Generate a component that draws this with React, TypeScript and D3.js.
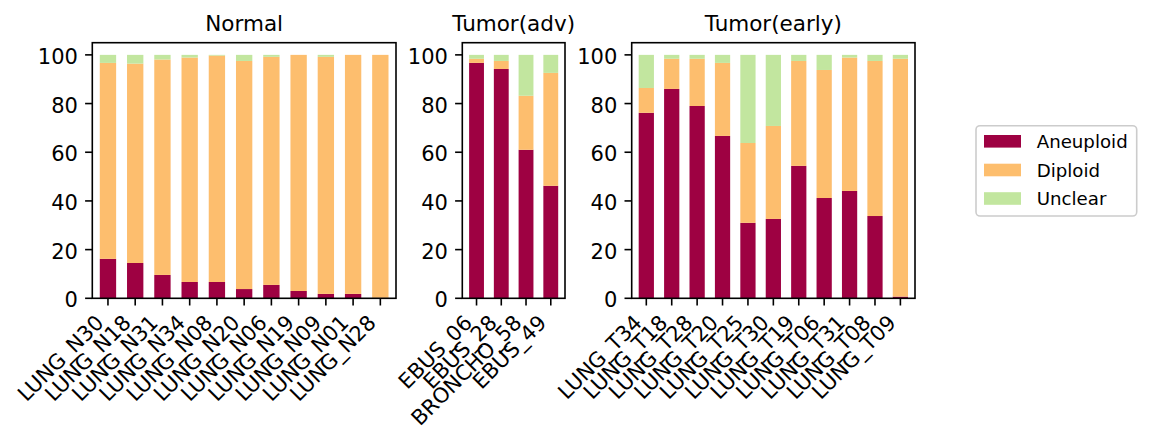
import React from 'react';
import * as d3 from 'd3';

const seriesNames = ['Aneuploid', 'Diploid', 'Unclear'];
const seriesColors = ['#9e0142', '#fdbe6e', '#c2e69f'];
const yTicks = [0, 20, 40, 60, 80, 100];

const normalSamples = ['LUNG_N30', 'LUNG_N18', 'LUNG_N31', 'LUNG_N34', 'LUNG_N08', 'LUNG_N20', 'LUNG_N06', 'LUNG_N19', 'LUNG_N09', 'LUNG_N01', 'LUNG_N28'];
const normalAneuploid = [16.2, 14.5, 9.6, 6.7, 6.7, 3.8, 5.5, 3.0, 1.8, 1.8, 0.2];
const normalDiploid = [80.5, 81.9, 88.5, 92.2, 93.0, 93.7, 93.7, 97.0, 97.4, 98.2, 99.8];
const normalUnclear = [3.3, 3.6, 1.9, 1.1, 0.3, 2.5, 0.8, 0.0, 0.8, 0.0, 0.0];

const advSamples = ['EBUS_06', 'EBUS_28', 'BRONCHO_58', 'EBUS_49'];
const advAneuploid = [96.7, 94.2, 61.0, 46.2];
const advDiploid = [1.7, 3.3, 22.2, 46.4];
const advUnclear = [1.6, 2.5, 16.8, 7.4];

const earlySamples = ['LUNG_T34', 'LUNG_T18', 'LUNG_T28', 'LUNG_T20', 'LUNG_T25', 'LUNG_T30', 'LUNG_T19', 'LUNG_T06', 'LUNG_T31', 'LUNG_T08', 'LUNG_T09'];
const earlyAneuploid = [76.2, 86.0, 79.0, 66.7, 31.0, 32.6, 54.4, 41.2, 44.1, 33.8, 0.7];
const earlyDiploid = [10.2, 12.4, 19.4, 30.0, 32.8, 38.2, 43.1, 52.6, 54.8, 63.7, 97.7];
const earlyUnclear = [13.6, 1.6, 1.6, 3.3, 36.2, 29.2, 2.5, 6.2, 1.1, 2.5, 1.6];

const FONT = 'DejaVu Sans, sans-serif';
const TOP = 42.7;
const BOTTOM = 298.3;
const TICK = 7.2;
const PAD = 7.2;
const TICK_FS = 21;

type PanelProps = {
  title: string;
  samples: string[];
  aneuploid: number[];
  diploid: number[];
  unclear: number[];
  left: number;
  right: number;
};

function Panel({ title, samples, aneuploid, diploid, unclear, left, right }: PanelProps) {
  const n = samples.length;
  const x = d3.scaleLinear().domain([-0.575, n - 1 + 0.575]).range([left, right]);
  const y = d3.scaleLinear().domain([0, 105]).range([BOTTOM, TOP]);
  const rows = samples.map((s, i) => ({ sample: s, i, Aneuploid: aneuploid[i], Diploid: diploid[i], Unclear: unclear[i] }));
  const stacked = d3.stack<any>().keys(seriesNames)(rows);
  const bw = x(0.3) - x(-0.3);
  const tickBottom = BOTTOM + TICK;
  const asc = 0.76 * TICK_FS;
  const desc = 0.21 * TICK_FS;
  return (
    <g>
      {stacked.map((layer, li) => (
        <g key={layer.key} fill={seriesColors[li]}>
          {layer.map((d, i) => (
            <rect key={i} x={x(i) - bw / 2} width={bw} y={y(d[1])} height={Math.max(0, y(d[0]) - y(d[1]))} />
          ))}
        </g>
      ))}
      <rect x={left} y={TOP} width={right - left} height={BOTTOM - TOP} fill="none" stroke="#000" strokeWidth={1.6} />
      {yTicks.map((t) => (
        <g key={t}>
          <line x1={left - TICK} x2={left} y1={y(t)} y2={y(t)} stroke="#000" strokeWidth={1.6} />
          <text x={left - TICK - PAD} y={y(t) + 9} textAnchor="end" fontSize={TICK_FS} fontFamily={FONT} fill="#000">{t}</text>
        </g>
      ))}
      {samples.map((s, i) => {
        const px = x(i) - 0.707 * desc;
        const py = tickBottom + PAD + 0.707 * asc;
        return (
          <g key={s}>
            <line x1={x(i)} x2={x(i)} y1={BOTTOM} y2={tickBottom} stroke="#000" strokeWidth={1.6} />
            <text transform={`translate(${px},${py}) rotate(-45)`} textAnchor="end" fontSize={TICK_FS} fontFamily={FONT} fill="#000">{s}</text>
          </g>
        );
      })}
      <text x={(left + right) / 2} y={31} textAnchor="middle" fontSize={21.5} fontFamily={FONT} fill="#000">{title}</text>
    </g>
  );
}

export default function App() {
  const legendX = 976;
  const legendY = 125.7;
  const rowCenters = [141.3, 170, 198.5];
  return (
    <svg width={1152} height={445} style={{ position: 'absolute', left: 0, top: 0, background: '#fff' }}>
      <rect x={0} y={0} width={1152} height={445} fill="#fff" />
      <Panel title="Normal" samples={normalSamples} aneuploid={normalAneuploid} diploid={normalDiploid} unclear={normalUnclear} left={92.3} right={396} />
      <Panel title="Tumor(adv)" samples={advSamples} aneuploid={advAneuploid} diploid={advDiploid} unclear={advUnclear} left={462.3} right={565} />
      <Panel title="Tumor(early)" samples={earlySamples} aneuploid={earlyAneuploid} diploid={earlyDiploid} unclear={earlyUnclear} left={631.7} right={915} />
      <g>
        <rect x={legendX} y={legendY} width={160.7} height={90.3} rx={4} fill="#fff" fillOpacity={0.8} stroke="#cccccc" strokeWidth={1.6} />
        {seriesNames.map((name, i) => (
          <g key={name}>
            <rect x={984} y={rowCenters[i] - 6.3} width={37} height={12.6} fill={seriesColors[i]} />
            <text x={1036.7} y={rowCenters[i] + 6.5} fontSize={18.2} fontFamily={FONT} fill="#000">{name}</text>
          </g>
        ))}
      </g>
    </svg>
  );
}
